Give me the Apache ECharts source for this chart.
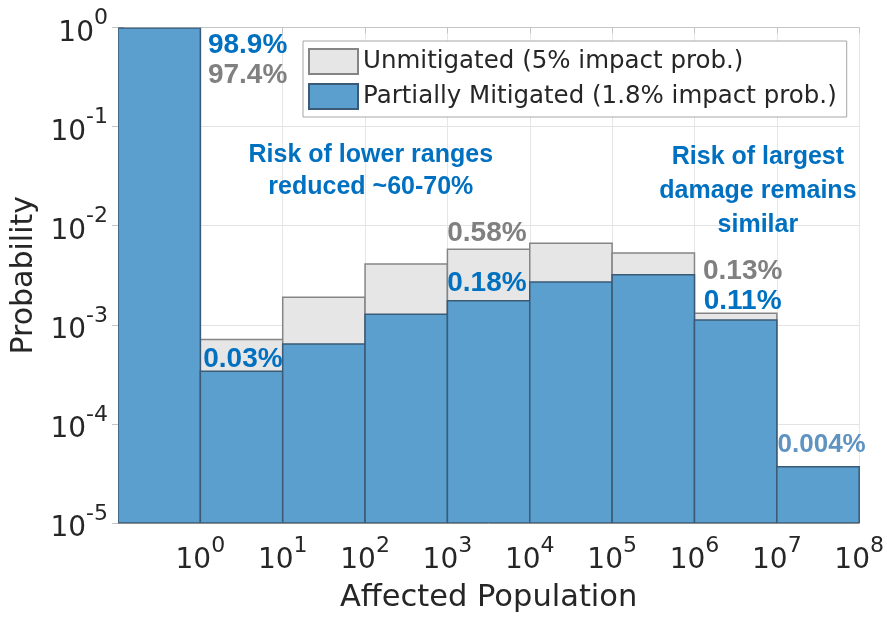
<!DOCTYPE html>
<html>
<head>
<meta charset="utf-8">
<script src="https://cdn.jsdelivr.net/npm/echarts@6/dist/echarts.min.js"></script>
<style>
html,body{margin:0;padding:0;background:#ffffff;}
#chart{width:887px;height:619px;}
</style>
</head>
<body>
<div id="chart"></div>
<script>
// ---------------- data ----------------
const populationBins = ['0', '1–10', '10–100', '100–1k', '1k–10k', '10k–100k', '100k–1M', '1M–10M', '10M–100M'];
const unmitigated = [0.974, 7.1e-4, 1.9e-3, 4.1e-3, 5.8e-3, 6.65e-3, 5.3e-3, 1.31e-3, 3.7e-5];
const partiallyMitigated = [0.989, 3.4e-4, 6.4e-4, 1.28e-3, 1.75e-3, 2.7e-3, 3.2e-3, 1.12e-3, 3.7e-5];
const xTickExponents = [0, 1, 2, 3, 4, 5, 6, 7, 8];
const yTickExponents = [-5, -4, -3, -2, -1, 0];
const seriesNames = ['Unmitigated (5% impact prob.)', 'Partially Mitigated (1.8% impact prob.)'];
const annotationTexts = ['98.9%', '97.4%', 'Risk of lower ranges\nreduced ~60-70%', 'Risk of largest\ndamage remains\nsimilar',
  '0.58%', '0.18%', '0.13%', '0.11%', '0.03%', '0.004%'];
// anchors of annotations in data space [bin position, probability]
const annotationAnchors = [[1.092, 0.666], [1.092, 0.331], [3.07, 0.0355], [7.77, 0.0223],
  [4.48, 0.00839], [4.48, 0.00263], [7.585, 0.00347], [7.585, 0.00173], [1.517, 4.49e-4], [8.544, 6.2e-5]];

// ---------------- styles ----------------
const BLUE_TXT = '#0070c0', GRAY_TXT = '#808080', STEEL_TXT = '#5f93c2';
const annotationStyles = [
  {fill: BLUE_TXT, size: 28, align: 'left'},
  {fill: GRAY_TXT, size: 28, align: 'left'},
  {fill: BLUE_TXT, size: 25, align: 'center', lh: 32},
  {fill: BLUE_TXT, size: 25, align: 'center', lh: 34},
  {fill: GRAY_TXT, size: 28, align: 'center'},
  {fill: BLUE_TXT, size: 28, align: 'center'},
  {fill: GRAY_TXT, size: 28, align: 'center'},
  {fill: BLUE_TXT, size: 28, align: 'center'},
  {fill: BLUE_TXT, size: 28, align: 'center'},
  {fill: STEEL_TXT, size: 26, align: 'center'}
];

const Y_MIN = Math.pow(10, yTickExponents[0]);
const Y_MAX = Math.pow(10, yTickExponents[yTickExponents.length - 1]);

function binData(values) {
  return values.map((v, i) => [i, i + 1, v, populationBins[i]]);
}

function renderBin(params, api) {
  const p0 = api.coord([api.value(0), api.value(2)]);
  const p1 = api.coord([api.value(1), Y_MIN]);
  return {
    type: 'rect',
    shape: {x: p0[0], y: p0[1], width: p1[0] - p0[0], height: p1[1] - p0[1]},
    style: api.style()
  };
}

const tickRich = {
  b: {fontSize: 28, fontFamily: 'DejaVu Sans', color: '#262626', padding: [12, 0, 0, 0]},
  s: {fontSize: 22, fontFamily: 'DejaVu Sans', color: '#262626', padding: [0, 0, 18, 0]}
};

function xLabel(v) {
  const i = Math.round(v) - 1;
  if (i < 0 || i >= xTickExponents.length) return '';
  return '{b|10}{s|' + xTickExponents[i] + '}';
}
function yLabel(v) {
  const e = Math.round(Math.log10(v));
  if (yTickExponents.indexOf(e) < 0) return '';
  return '{b|10}{s|' + e + '}';
}

const AX = '#8c8c8c';
const chart = echarts.init(document.getElementById('chart'), null, {renderer: 'canvas'});

const option = {
  animation: false,
  backgroundColor: '#ffffff',
  grid: {left: 118, right: 27, top: 27.5, bottom: 96, show: false},
  legend: {
    orient: 'vertical',
    left: 303, top: 41,
    padding: [7, 10, 7, 5],
    itemGap: 8,
    itemWidth: 49, itemHeight: 25,
    icon: 'rect',
    backgroundColor: '#ffffff',
    borderColor: '#a6a6a6', borderWidth: 1,
    textStyle: {fontFamily: 'DejaVu Sans', fontSize: 24.5, color: '#262626'},
    data: seriesNames
  },
  xAxis: [{
    type: 'value', min: 0, max: xTickExponents.length, interval: 1,
    name: 'Affected Population', nameLocation: 'middle', nameGap: 60,
    nameTextStyle: {fontFamily: 'DejaVu Sans', fontSize: 30.5, color: '#262626'},
    axisLine: {show: true, lineStyle: {color: AX, width: 1}},
    axisTick: {show: true, inside: true, length: 6, lineStyle: {color: AX}},
    splitLine: {show: true, lineStyle: {color: '#e6e6e6', width: 1}},
    axisLabel: {margin: 12, formatter: xLabel, rich: tickRich}
  }, {
    type: 'value', position: 'top', min: 0, max: xTickExponents.length, interval: 1,
    axisLine: {show: true, lineStyle: {color: '#c4c4c4', width: 1}},
    axisTick: {show: true, inside: true, length: 6, lineStyle: {color: '#c4c4c4'}},
    splitLine: {show: false}, axisLabel: {show: false}
  }],
  yAxis: [{
    type: 'log', logBase: 10, min: Y_MIN, max: Y_MAX, splitNumber: yTickExponents.length - 1,
    name: 'Probability', nameLocation: 'middle', nameGap: 74,
    nameTextStyle: {fontFamily: 'DejaVu Sans', fontSize: 30, color: '#262626'},
    axisLine: {show: true, lineStyle: {color: AX, width: 1}},
    axisTick: {show: true, inside: true, length: 6, lineStyle: {color: AX}},
    splitLine: {show: true, lineStyle: {color: '#e3e3e3', width: 1}},
    axisLabel: {margin: 10, formatter: yLabel, rich: tickRich}
  }, {
    type: 'log', logBase: 10, position: 'right', min: Y_MIN, max: Y_MAX, splitNumber: yTickExponents.length - 1,
    axisLine: {show: true, lineStyle: {color: '#c4c4c4', width: 1}},
    axisTick: {show: true, inside: true, length: 6, lineStyle: {color: '#c4c4c4'}},
    splitLine: {show: false}, axisLabel: {show: false}
  }],
  series: [
    {
      name: seriesNames[0], type: 'custom', renderItem: renderBin, clip: true,
      xAxisIndex: 0, yAxisIndex: 0,
      encode: {x: [0, 1], y: 2},
      itemStyle: {color: '#e6e6e6', borderColor: '#858585', borderWidth: 1.5},
      data: binData(unmitigated), z: 2
    },
    {
      name: seriesNames[1], type: 'custom', renderItem: renderBin, clip: true,
      xAxisIndex: 0, yAxisIndex: 0,
      encode: {x: [0, 1], y: 2},
      itemStyle: {color: '#5b9fcf', borderColor: '#3a5a75', borderWidth: 1.5},
      data: binData(partiallyMitigated), z: 3
    }
  ]
};
chart.setOption(option);

const graphics = annotationTexts.map((t, i) => {
  const p = chart.convertToPixel({xAxisIndex: 0, yAxisIndex: 0}, annotationAnchors[i]);
  const st = annotationStyles[i];
  return {
    type: 'text', x: p[0], y: p[1], z: 100,
    style: {
      text: t, fill: st.fill,
      font: 'bold ' + st.size + 'px "Liberation Sans", Arial, sans-serif',
      textAlign: st.align, textVerticalAlign: 'middle',
      lineHeight: st.lh || st.size
    }
  };
});
chart.setOption({graphic: graphics});
</script>
</body>
</html>
